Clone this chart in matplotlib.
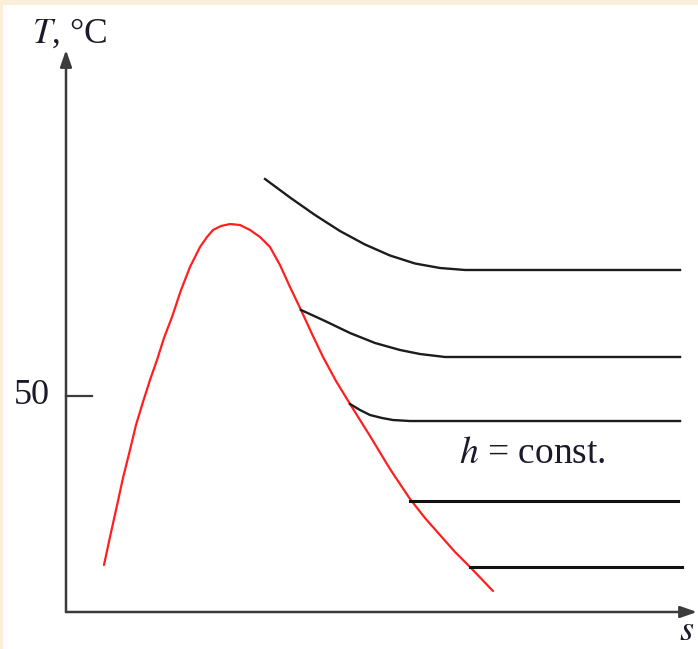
# T-s diagram with constant enthalpy lines (sketch)

import matplotlib.pyplot as plt
from matplotlib.patches import Rectangle

# curva de saturacion (s, T)
sat_s = [0.602, 0.697, 0.803, 0.903, 1.014, 1.109, 1.220, 1.331, 1.442, 1.553,
         1.680, 1.823, 1.965, 2.124, 2.235, 2.330, 2.456, 2.599, 2.758, 2.916,
         3.074, 3.233, 3.391, 3.550, 3.724, 3.899, 4.073, 4.279, 4.501, 4.818,
         5.135, 5.293, 5.452, 5.689, 5.927, 6.165, 6.403, 6.767]
sat_T = [10.88, 17.36, 24.31, 31.02, 37.50, 43.29, 48.61, 53.70, 58.33, 63.43,
         68.29, 74.54, 79.86, 84.49, 86.81, 88.43, 89.35, 89.81, 89.58, 88.43,
         86.81, 84.49, 80.32, 75.23, 69.91, 64.35, 59.03, 53.47, 48.15, 40.74,
         33.10, 29.63, 26.16, 21.76, 17.82, 13.89, 10.42, 4.86]

# lineas de entalpia constante
h1_s = [3.154, 3.550, 3.946, 4.342, 4.738, 5.135, 5.531, 5.927, 6.323, 9.731]
h1_T = [100.23, 95.95, 91.90, 88.19, 85.07, 82.52, 80.67, 79.63, 79.17, 79.17]
h2_s = [3.724, 4.105, 4.501, 4.897, 5.293, 5.610, 6.006, 9.731]
h2_T = [69.91, 67.36, 64.58, 62.27, 60.65, 59.72, 59.03, 59.03]
h3_s = [4.501, 4.659, 4.818, 5.008, 5.182, 5.452, 9.731]
h3_T = [48.15, 46.76, 45.60, 44.91, 44.44, 44.21, 44.21]
h4_s = [5.452, 9.699]
h4_T = [25.69, 25.69]
h5_s = [6.403, 9.762]
h5_T = [10.35, 10.35]

# escalas (px por unidad) para que todo encaje con la imagen
sx = 63.1
sy = 4.32

fig = plt.figure(figsize=(6.98, 6.49), dpi=100)
fig.patch.set_facecolor('#fcefd9')
fig.patches.append(Rectangle((3 / 698, 0), 1, 1 - 5 / 649, transform=fig.transFigure,
                             facecolor='white', edgecolor='none', zorder=-10))

plt.rcParams['font.family'] = ['Liberation Serif', 'DejaVu Serif']
plt.rcParams['mathtext.fontset'] = 'stix'

ax = fig.add_axes([0, 0, 1, 1])
ax.set_xlim(-66 / sx, (698 - 66) / sx)
ax.set_ylim((612 - 649) / sy, 612 / sy)
ax.axis('off')
ax.patch.set_alpha(0)

# ejes con flecha
axcol = '#3c3c3c'
ax.annotate('', xy=(0, (612 - 50) / sy), xytext=(0, 0),
            arrowprops=dict(arrowstyle='-|>,head_length=1.0,head_width=0.35',
                            color=axcol, lw=1.8, shrinkA=0, shrinkB=0))
ax.annotate('', xy=((697 - 66) / sx, 0), xytext=(0, 0),
            arrowprops=dict(arrowstyle='-|>,head_length=1.0,head_width=0.35',
                            color=axcol, lw=1.8, shrinkA=0, shrinkB=0))
ax.plot([0, 26 / sx], [50, 50], color=axcol, lw=1.6)

# curvas
ax.plot(sat_s, sat_T, color='#ff1f1f', lw=1.6, solid_capstyle='round',
        solid_joinstyle='round')
for hs, hT in [(h1_s, h1_T), (h2_s, h2_T), (h3_s, h3_T)]:
    ax.plot(hs, hT, color='#1c1c1c', lw=1.7, solid_joinstyle='round')
ax.plot(h4_s, h4_T, color='#111111', lw=2.2)
ax.plot(h5_s, h5_T, color='#111111', lw=2.2)

# textos
ax.text(-34 / sx, 131.7, r'$T$, °C', fontsize=25.5, ha='left', va='baseline', color='#1a1a2a')
ax.text(-16 / sx, 50, '50', fontsize=26, ha='right', va='center', color='#1a1a2a')
ax.text(6.23, 34.5, r'$h$ = const.', fontsize=27, ha='left', va='baseline', color='#1a1a2a')
ax.text(9.83, -6.5, r'$s$', fontsize=26, ha='center', va='baseline', color='#1a1a2a')

plt.savefig('out.png', dpi=100, facecolor=fig.get_facecolor())
